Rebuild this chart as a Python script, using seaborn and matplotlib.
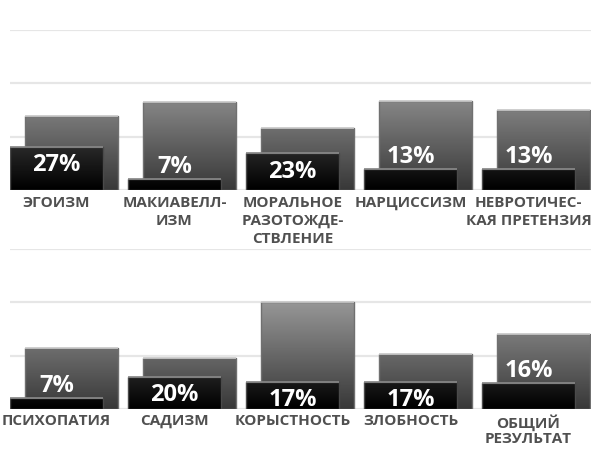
import numpy as np
import pandas as pd
import matplotlib
matplotlib.use("Agg")
import matplotlib.pyplot as plt
import seaborn as sns
from matplotlib.colors import LinearSegmentedColormap

# Top row
top_labels = ["ЭГОИЗМ", "МАКИАВЕЛЛ-\nИЗМ", "МОРАЛЬНОЕ\nРАЗОТОЖДЕ-\nСТВЛЕНИЕ",
              "НАРЦИССИЗМ", "НЕВРОТИЧЕС-\nКАЯ ПРЕТЕНЗИЯ"]
top_back = [46.4, 54.8, 38.5, 55.4, 49.8]
top_pct = [27, 7, 23, 13, 13]

# Bottom row
bottom_labels = ["ПСИХОПАТИЯ", "САДИЗМ", "КОРЫСТНОСТЬ", "ЗЛОБНОСТЬ", "ОБЩИЙ\nРЕЗУЛЬТАТ"]
bottom_back = [38.1, 31.9, 67.1, 34.4, 46.9]
bottom_pct = [7, 20, 17, 17, 16]

sns.set_theme(style="white")
plt.rcParams['font.family'] = ['Open Sans', 'DejaVu Sans']

gray_cmap = LinearSegmentedColormap.from_list("g", ["#383838", "#c4c4c4"])
black_cmap = LinearSegmentedColormap.from_list("b", ["#000000", "#9a9a9a"])


def gradient_fill(ax, patch, cmap, top_val, z, edge, hilite):
    x, w, h = patch.get_x(), patch.get_width(), patch.get_height()
    grad = np.linspace(0, h, 80).reshape(-1, 1)
    im = ax.imshow(grad, extent=[x, x + w, 0, h], origin="lower", aspect="auto",
                   cmap=cmap, vmin=0, vmax=top_val, zorder=z, interpolation="bilinear")
    im.set_clip_path(patch)
    patch.set_facecolor("none")
    patch.set_edgecolor(edge)
    patch.set_linewidth(1.0)
    patch.set_zorder(z + 0.1)
    ax.plot([x + 0.004, x + w - 0.004], [h, h], color=hilite, lw=1.2,
            zorder=z + 0.2, solid_capstyle="butt")


def draw_row(ax, labels, back, pct, linespacing):
    df = pd.DataFrame({"cat": labels, "back": back, "pct": pct})
    sns.barplot(data=df, x="cat", y="back", width=0.791, ax=ax, color="#777777")
    sns.barplot(data=df, x="cat", y="pct", width=0.788, ax=ax, color="#111111")
    back_bars, front_bars = ax.containers[0], ax.containers[1]
    for p in back_bars:
        p.set_x(p.get_x() + 0.0225)
        gradient_fill(ax, p, gray_cmap, 100, 2, "#707070", "#cccccc")
    for p in front_bars:
        p.set_x(p.get_x() - 0.106)
        gradient_fill(ax, p, black_cmap, 100, 3, "#4a4a4a", "#8a8a8a")

    centers = [p.get_x() + p.get_width() / 2 for p in front_bars]
    for cx, v in zip(centers, pct):
        if v >= 17:
            ax.annotate(f"{v}%", xy=(cx, v), xytext=(0, -17.6), textcoords="offset points",
                        ha="center", va="baseline", color="white", fontsize=17,
                        fontweight="bold", zorder=6)
        else:
            ax.annotate(f"{v}%", xy=(cx, v), xytext=(0, 4.3), textcoords="offset points",
                        ha="center", va="baseline", color="white", fontsize=17,
                        fontweight="bold", zorder=6)

    ax.set_xticks(centers)
    ax.set_xticklabels(labels, fontsize=11, fontweight="bold", color="#505050",
                       linespacing=linespacing, multialignment="center")
    ax.tick_params(axis="x", length=0, pad=4)
    ax.set_yticks(np.linspace(0, 100, 4))
    ax.set_yticklabels([])
    ax.tick_params(axis="y", length=0)
    ax.yaxis.grid(True, color="#e6e6e6", lw=1.6)
    ax.set_axisbelow(True)
    ax.set_xlim(-0.5, -0.5 + 581 / 118)
    ax.set_ylim(0, 100)
    ax.set_xlabel("")
    ax.set_ylabel("")
    sns.despine(ax=ax, left=True, bottom=True)


fig = plt.figure(figsize=(5.97, 4.70), dpi=100)
ax_top = fig.add_axes([10 / 597, 1 - 190 / 470, 581 / 597, 160 / 470])
ax_bot = fig.add_axes([10 / 597, 1 - 408.7 / 470, 581 / 597, 159.4 / 470])

draw_row(ax_top, top_labels, top_back, top_pct, 1.37)
draw_row(ax_bot, bottom_labels, bottom_back, bottom_pct, 1.14)

fig.savefig("out.png", dpi=100)
